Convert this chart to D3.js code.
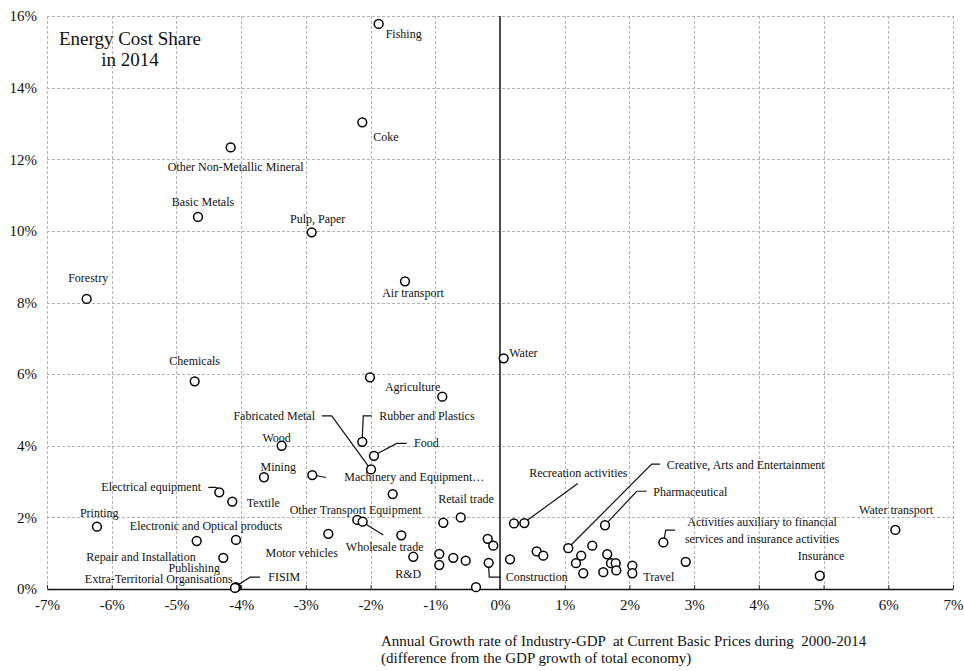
<!DOCTYPE html>
<html>
<head>
<meta charset="utf-8">
<script src="https://cdn.jsdelivr.net/npm/d3@7/dist/d3.min.js"></script>
<style>
  html, body { margin: 0; padding: 0; background: #fff; }
  svg { display: block; font-family: "Liberation Serif", "Times New Roman", serif; }
</style>
</head>
<body>
<svg id="chart" width="964" height="671"></svg>
<script>
// Industries: growth relative to total economy (% p.a., 2000-2014) and energy cost share in 2014 (%)
const industries = [
  "Fishing", "Coke", "Other Non-Metallic Mineral", "Basic Metals", "Pulp, Paper",
  "Forestry", "Air transport", "Water", "Chemicals", "",
  "Agriculture", "Rubber and Plastics", "Food", "Fabricated Metal", "Wood",
  "Mining", "Machinery and Equipment…", "", "Electrical equipment", "Textile",
  "Printing", "Electronic and Optical products", "Repair and Installation", "Publishing", "FISIM",
  "Extra-Territorial Organisations", "Motor vehicles", "Other Transport Equipment", "Wholesale trade", "",
  "Retail trade", "", "R&D", "", "",
  "", "", "", "", "Construction",
  "", "", "", "Recreation activities", "",
  "", "Creative, Arts and Entertainment", "", "", "",
  "", "Pharmaceutical", "", "", "",
  "", "", "", "Travel", "Activities auxiliary to financial services and insurance activities",
  "", "Insurance", "Water transport"
];
const growthDiff = [
  -1.875, -2.128, -4.162, -4.667, -2.910,
  -6.387, -1.468, 0.057, -4.718, -2.009,
  -0.892, -2.128, -1.947, -1.993, -3.374,
  -3.647, -2.901, -1.658, -4.338, -4.137,
  -6.228, -4.080, -4.687, -4.276, -4.080,
  -4.095, -2.653, -2.205, -2.122, -1.525,
  -0.607, -0.876, -1.340, -0.938, -0.938,
  -0.722, -0.530, -0.190, -0.104, -0.175,
  -0.371, 0.155, 0.216, 0.376, 0.567,
  0.669, 1.055, 1.426, 1.255, 1.174,
  1.287, 1.623, 1.657, 1.715, 1.788,
  1.596, 1.797, 2.045, 2.045, 2.524,
  2.870, 4.941, 6.109
];
const energyShare = [
  15.78, 13.03, 12.33, 10.39, 9.96,
  8.10, 8.59, 6.44, 5.80, 5.91,
  5.37, 4.11, 3.72, 3.34, 4.00,
  3.12, 3.18, 2.65, 2.70, 2.44,
  1.74, 1.37, 1.34, 0.87, 0.05,
  0.03, 1.54, 1.93, 1.88, 1.50,
  2.00, 1.85, 0.90, 0.98, 0.67,
  0.87, 0.79, 1.40, 1.21, 0.73,
  0.05, 0.83, 1.83, 1.84, 1.05,
  0.93, 1.14, 1.21, 0.93, 0.72,
  0.44, 1.78, 0.97, 0.72, 0.72,
  0.47, 0.52, 0.65, 0.44, 1.30,
  0.76, 0.37, 1.65
];
const xTicks = [-7, -6, -5, -4, -3, -2, -1, 0, 1, 2, 3, 4, 5, 6, 7];
const yTicks = [0, 2, 4, 6, 8, 10, 12, 14, 16];
const titleLines = ["Energy Cost Share", "in 2014"];
const xTitleLines = [
  "Annual Growth rate of Industry-GDP  at Current Basic Prices during  2000-2014",
  "(difference from the GDP growth of total economy)"
];

// Label placement relative to each marker (pixels), with optional leader polyline
const labelLayout = {
  "Fishing": { dx: 7, dy: 10, anchor: "start" },
  "Coke": { dx: 11, dy: 15, anchor: "start" },
  "Other Non-Metallic Mineral": { dx: 5, dy: 19.5, anchor: "middle" },
  "Basic Metals": { dx: 5, dy: -14.5, anchor: "middle" },
  "Pulp, Paper": { dx: 6, dy: -13.5, anchor: "middle" },
  "Forestry": { dx: 1.5, dy: -20.5, anchor: "middle" },
  "Air transport": { dx: 8, dy: 12, anchor: "middle" },
  "Water": { dx: 5.5, dy: -5.5, anchor: "start" },
  "Chemicals": { dx: 0, dy: -20, anchor: "middle" },
  "Agriculture": { dx: -2, dy: -10, anchor: "end" },
  "Rubber and Plastics": { dx: 17, dy: -26, anchor: "start",
    leader: [[0, -4.5], [1, -26], [9.5, -26]] },
  "Food": { dx: 40, dy: -12.4, anchor: "start",
    leader: [[3.6, -2.2], [22.7, -12.4], [32.7, -12.4]] },
  "Fabricated Metal": { dx: -56, dy: -53.6, anchor: "end",
    leader: [[-2.7, -3.2], [-39.3, -53.6], [-49.3, -53.6]] },
  "Wood": { dx: -5, dy: -8, anchor: "middle" },
  "Mining": { dx: 14.3, dy: -10, anchor: "middle" },
  "Machinery and Equipment…": { dx: 32, dy: 2.3, anchor: "start",
    leader: [[4.4, 0.6], [13.7, 2.4]] },
  "Electrical equipment": { dx: -18.3, dy: -5, anchor: "end",
    leader: [[-11, -5], [-4, -5], [-1.5, -4]] },
  "Textile": { dx: 14.4, dy: 1, anchor: "start" },
  "Printing": { dx: 2.3, dy: -13.4, anchor: "middle" },
  "Electronic and Optical products": { dx: -30, dy: -14.3, anchor: "middle" },
  "Repair and Installation": { dx: -1, dy: 15.7, anchor: "end" },
  "Publishing": { dx: -29, dy: 9.7, anchor: "middle" },
  "FISIM": { dx: 32.3, dy: -10, anchor: "start",
    leader: [[3.2, -3], [14, -10], [24, -10]] },
  "Extra-Territorial Organisations": { dx: -2.3, dy: -8.5, anchor: "end" },
  "Motor vehicles": { dx: -26.6, dy: 18.7, anchor: "middle" },
  "Other Transport Equipment": { dx: 64.4, dy: -10, anchor: "end" },
  "Wholesale trade": { dx: 22, dy: 25, anchor: "middle",
    leader: [[2.5, 2], [20.6, 13.3]] },
  "Retail trade": { dx: 5.3, dy: -18, anchor: "middle" },
  "R&D": { dx: -5, dy: 17.3, anchor: "middle" },
  "Construction": { dx: 17, dy: 14.3, anchor: "start",
    leader: [[0, 4.5], [0.6, 14.3], [12, 14.3]] },
  "Recreation activities": { dx: 54, dy: -50.3, anchor: "middle",
    leader: [[3, -2.8], [53.4, -39.7]] },
  "Creative, Arts and Entertainment": { dx: 98.4, dy: -83, anchor: "start",
    leader: [[3, -3.4], [83.4, -84], [91.7, -84]] },
  "Pharmaceutical": { dx: 48.3, dy: -33, anchor: "start",
    leader: [[3, -3.4], [31.7, -34], [41.7, -34]] },
  "Activities auxiliary to financial services and insurance activities": {
    dx: 98.7, dy: -20.3, anchor: "middle",
    lines: ["Activities auxiliary to financial", "services and insurance activities"],
    leader: [[1, -4.5], [2.4, -12.3], [11.7, -12.3]] },
  "Travel": { dx: 11, dy: 3.4, anchor: "start" },
  "Insurance": { dx: 1.3, dy: -19.7, anchor: "middle" },
  "Water transport": { dx: 0.7, dy: -19.7, anchor: "middle" }
};

const svg = d3.select("#chart");
const plotLeft = 47, plotRight = 953, plotTop = 16, plotBottom = 589;

const x = d3.scaleLinear().domain([-7, 7]).range([plotLeft, plotRight]);
const y = d3.scaleLinear().domain([0, 16]).range([plotBottom, plotTop]);

const pct = d => d + "%";

// dashed grid
const gridColor = "#b4b4b4";
svg.append("g")
  .attr("class", "grid-x")
  .selectAll("line")
  .data(xTicks.filter(t => t !== 0))
  .join("line")
  .attr("x1", d => Math.round(x(d)) + 0.5).attr("x2", d => Math.round(x(d)) + 0.5)
  .attr("y1", y(16)).attr("y2", y(0))
  .attr("stroke", gridColor).attr("stroke-width", 1).attr("stroke-dasharray", "3,2");

svg.append("g")
  .attr("class", "grid-y")
  .selectAll("line")
  .data(yTicks.filter(t => t !== 0))
  .join("line")
  .attr("x1", x(-7)).attr("x2", x(7))
  .attr("y1", d => Math.round(y(d)) + 0.5).attr("y2", d => Math.round(y(d)) + 0.5)
  .attr("stroke", gridColor).attr("stroke-width", 1).attr("stroke-dasharray", "3,2");

// zero growth line
svg.append("line")
  .attr("x1", x(0)).attr("x2", x(0))
  .attr("y1", y(16)).attr("y2", y(0))
  .attr("stroke", "#222").attr("stroke-width", 1.6);

// x axis
const xAxis = svg.append("g")
  .attr("transform", `translate(0,${y(0)})`)
  .call(d3.axisBottom(x).tickValues(xTicks).tickFormat(pct)
    .tickSizeInner(-4).tickSizeOuter(0).tickPadding(10));
xAxis.select(".domain").attr("stroke", "#111").attr("stroke-width", 1.6);
xAxis.selectAll(".tick line").attr("stroke", "#333").attr("stroke-width", 1);
xAxis.selectAll(".tick text")
  .attr("fill", "#111").style("font-size", "15px")
  .style("font-family", "'Liberation Serif', serif");

// y axis (labels only)
const yAxis = svg.append("g")
  .attr("transform", `translate(${x(-7)},0)`)
  .call(d3.axisLeft(y).tickValues(yTicks).tickFormat(pct)
    .tickSize(0).tickPadding(10));
yAxis.select(".domain").remove();
yAxis.selectAll(".tick text")
  .attr("fill", "#111").style("font-size", "15px")
  .style("font-family", "'Liberation Serif', serif");

// data points
const data = industries.map((name, i) => ({ name, gx: growthDiff[i], share: energyShare[i] }));

// leaders
const lineGen = d3.line();
svg.append("g").attr("class", "leaders")
  .selectAll("path")
  .data(data.filter(d => labelLayout[d.name] && labelLayout[d.name].leader))
  .join("path")
  .attr("d", d => lineGen(labelLayout[d.name].leader.map(([dx, dy]) => [x(d.gx) + dx, y(d.share) + dy])))
  .attr("fill", "none").attr("stroke", "#111").attr("stroke-width", 1.2);

svg.append("g").attr("class", "points")
  .selectAll("circle")
  .data(data)
  .join("circle")
  .attr("cx", d => x(d.gx))
  .attr("cy", d => y(d.share))
  .attr("r", 4.4)
  .attr("fill", "#fff")
  .attr("stroke", "#000")
  .attr("stroke-width", 1.5);

// point labels
const labels = svg.append("g").attr("class", "labels")
  .selectAll("text")
  .data(data.filter(d => labelLayout[d.name]))
  .join("text")
  .attr("x", d => x(d.gx) + labelLayout[d.name].dx)
  .attr("y", d => y(d.share) + labelLayout[d.name].dy)
  .attr("text-anchor", d => labelLayout[d.name].anchor)
  .attr("dominant-baseline", "central")
  .attr("fill", "#111")
  .style("font-size", "12px");
labels.each(function (d) {
  const lay = labelLayout[d.name];
  const sel = d3.select(this);
  if (lay.lines) {
    lay.lines.forEach((t, k) => {
      sel.append("tspan")
        .attr("x", x(d.gx) + lay.dx)
        .attr("dy", k === 0 ? 0 : 16.5)
        .text(t);
    });
  } else {
    sel.text(d.name);
  }
});

// chart title
svg.append("text")
  .attr("x", 130).attr("y", 45)
  .attr("text-anchor", "middle")
  .attr("fill", "#111")
  .style("font-size", "19px")
  .selectAll("tspan")
  .data(titleLines)
  .join("tspan")
  .attr("x", 130)
  .attr("dy", (d, i) => i === 0 ? 0 : 21)
  .text(d => d);

// x axis title
svg.append("text")
  .attr("x", 381).attr("y", 646)
  .attr("fill", "#111")
  .style("font-size", "15px")
  .style("white-space", "pre")
  .selectAll("tspan")
  .data(xTitleLines)
  .join("tspan")
  .attr("x", 381)
  .attr("dy", (d, i) => i === 0 ? 0 : 17)
  .text(d => d);
</script>
</body>
</html>
